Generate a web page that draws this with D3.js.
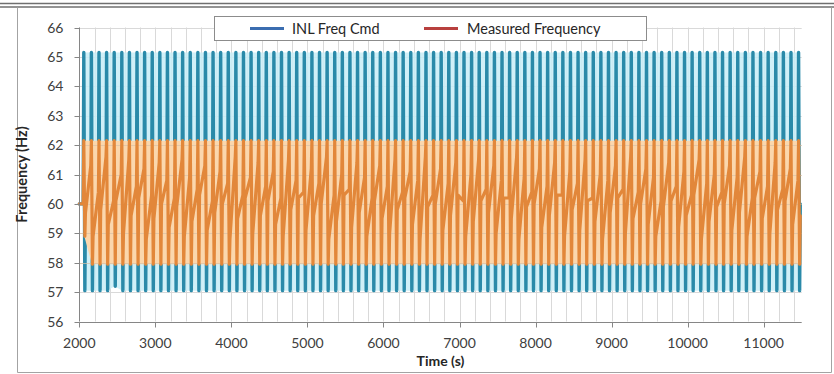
<!DOCTYPE html>
<html><head><meta charset="utf-8">
<script src="https://cdn.jsdelivr.net/npm/d3@7"></script>
<style>body{margin:0;background:#fff}svg{display:block}text{font-family:Lato,"Open Sans",sans-serif}</style>
</head><body>
<svg id="c" width="834" height="374"></svg>
<script>
// ---- data ----
const seriesNames = ["INL Freq Cmd", "Measured Frequency"];
const xTicks = [2000, 3000, 4000, 5000, 6000, 7000, 8000, 9000, 10000, 11000];
const yTicks = [56, 57, 58, 59, 60, 61, 62, 63, 64, 65, 66];
const xAxisTitle = "Time (s)";
const yAxisTitle = "Frequency (Hz)";
const startTime = 2000;
const startHz = 60;
const cmdRest = 60;
// centre time of each oscillation cycle (s)
const cycleTimes = [
  2066,2166,2266,2366,2466,2566,2666,2766,2866,2966,
  3066,3166,3266,3366,3466,3566,3666,3766,3866,3966,
  4066,4166,4266,4366,4466,4566,4666,4766,4866,4966,
  5066,5166,5266,5366,5466,5566,5666,5766,5866,5966,
  6066,6166,6266,6366,6466,6566,6666,6766,6866,6966,
  7066,7166,7266,7366,7466,7566,7666,7766,7866,7966,
  8066,8166,8266,8366,8466,8566,8666,8766,8866,8966,
  9066,9166,9266,9366,9466,9566,9666,9766,9866,9966,
  10066,10166,10266,10366,10466,10566,10666,10766,10866,10966,
  11066,11166,11266,11366,11466];
const cmdHigh = [
  65.15,65.15,65.15,65.15,65.15,65.15,65.15,65.15,65.15,65.15,
  65.15,65.15,65.15,65.15,65.15,65.15,65.15,65.15,65.15,65.15,
  65.15,65.15,65.15,65.15,65.15,65.15,65.15,65.15,65.15,65.15,
  65.15,65.15,65.15,65.15,65.15,65.15,65.15,65.15,65.15,65.15,
  65.15,65.15,65.15,65.15,65.15,65.15,65.15,65.15,65.15,65.15,
  65.15,65.15,65.15,65.15,65.15,65.15,65.15,65.15,65.15,65.15,
  65.15,65.15,65.15,65.15,65.15,65.15,65.15,65.15,65.15,65.15,
  65.15,65.15,65.15,65.15,65.15,65.15,65.15,65.15,65.15,65.15,
  65.15,65.15,65.15,65.15,65.15,65.15,65.15,65.15,65.15,65.15,
  65.15,65.15,65.15,65.15,65.15];
const cmdLow = [
  57.05,57.05,57.05,57.05,57.2,57.05,57.05,57.05,57.05,57.05,
  57.05,57.05,57.05,57.05,57.05,57.05,57.05,57.05,57.05,57.05,
  57.05,57.05,57.05,57.05,57.05,57.05,57.05,57.05,57.05,57.05,
  57.05,57.05,57.05,57.05,57.05,57.05,57.05,57.05,57.05,57.05,
  57.05,57.05,57.05,57.05,57.05,57.05,57.05,57.05,57.05,57.05,
  57.05,57.05,57.05,57.05,57.05,57.05,57.05,57.05,57.05,57.05,
  57.05,57.05,57.05,57.05,57.05,57.05,57.05,57.05,57.05,57.05,
  57.05,57.05,57.05,57.05,57.05,57.05,57.05,57.05,57.05,57.05,
  57.05,57.05,57.05,57.05,57.05,57.05,57.05,57.05,57.05,57.05,
  57.05,57.05,57.05,57.05,57.05];
const measHigh = [
  62.15,62.15,62.15,62.15,62.15,62.15,62.15,62.15,62.15,62.15,
  62.15,62.15,62.15,62.15,62.15,62.15,62.15,62.15,62.15,62.15,
  62.15,62.15,62.15,62.15,62.15,62.15,62.15,62.15,62.15,62.15,
  62.15,62.15,62.15,62.15,62.15,62.15,62.15,62.15,62.15,62.15,
  62.15,62.15,62.15,62.15,62.15,62.15,62.15,62.15,62.15,62.15,
  62.15,62.15,62.15,62.15,62.15,62.15,62.15,62.15,62.15,62.15,
  62.15,62.15,62.15,62.15,62.15,62.15,62.15,62.15,62.15,62.15,
  62.15,62.15,62.15,62.15,62.15,62.15,62.15,62.15,62.15,62.15,
  62.15,62.15,62.15,62.15,62.15,62.15,62.15,62.15,62.15,62.15,
  62.15,62.15,62.15,62.15,62.15];
const measLow = [
  58.9,57.95,57.95,57.95,57.95,57.95,57.95,57.95,57.95,57.95,
  57.95,57.95,57.95,57.95,57.95,57.95,57.95,57.95,57.95,57.95,
  57.95,57.95,57.95,57.95,57.95,57.95,57.95,57.95,57.95,57.95,
  57.95,57.95,57.95,57.95,57.95,57.95,57.95,57.95,57.95,57.95,
  57.95,57.95,57.95,57.95,57.95,57.95,57.95,57.95,57.95,57.95,
  57.95,57.95,57.95,57.95,57.95,57.95,57.95,57.95,57.95,57.95,
  57.95,57.95,57.95,57.95,57.95,57.95,57.95,57.95,57.95,57.95,
  57.95,57.95,57.95,57.95,57.95,57.95,57.95,57.95,57.95,57.95,
  57.95,57.95,57.95,57.95,57.95,57.95,57.95,57.95,57.95,57.95,
  57.95,57.95,57.95,57.95,57.95];
// measured value entering / leaving each cycle's swing
const measIn = [
  60.0,61.3,60.4,61.6,60.1,61.0,61.5,60.6,61.2,60.3,
  61.4,60.8,60.2,61.5,60.9,60.5,61.3,60.1,61.1,60.7,
  61.6,60.3,60.9,61.4,60.6,61.1,60.2,61.5,60.8,60.4,
  61.2,60.7,61.6,60.3,61.0,60.5,61.4,60.9,60.2,61.3,
  60.6,61.5,60.4,61.1,60.8,61.6,60.3,61.2,60.7,61.4,
  60.1,61.0,61.5,60.5,61.3,60.8,60.2,61.6,60.9,60.4,
  61.2,60.6,61.4,60.3,61.1,60.7,61.5,60.2,61.0,60.8,
  61.3,60.5,61.6,60.4,61.2,60.9,60.1,61.4,60.6,61.1,
  60.3,61.5,60.7,61.0,60.4,61.3,60.9,61.6,60.2,61.1,
  60.6,61.4,60.5,61.2,60.8];
const measOut = [
  59.7,58.9,59.8,59.3,60.1,59.0,59.6,60.2,58.8,59.5,
  60.0,59.2,59.9,58.9,59.4,60.3,59.1,59.7,60.0,58.8,
  59.5,60.2,59.0,59.6,60.1,59.3,58.9,59.8,60.2,59.1,
  59.6,60.0,58.8,59.4,60.3,59.2,59.7,58.9,60.1,59.5,
  59.0,59.8,60.2,59.3,58.8,59.9,60.0,59.1,59.6,60.3,
  58.9,59.4,60.1,59.7,59.0,60.2,59.5,58.8,59.9,60.0,
  59.2,59.6,60.3,58.9,59.8,59.1,60.1,59.4,58.8,59.7,
  60.2,59.0,59.5,60.0,59.3,58.9,59.9,60.1,59.2,59.6,
  60.3,58.8,59.4,59.9,60.0,59.1,59.7,58.9,60.2,59.5,
  59.0,59.8,60.1,59.3,59.6];

// ---- layout ----
const svg = d3.select("#c");
const x = d3.scaleLinear().domain([2000, 11500]).range([79.3, 801.7]);
const y = d3.scaleLinear().domain([56, 66]).range([321.5, 27.5]);
const crisp = v => Math.round(v) + 0.5;

// frame
svg.append("rect").attr("width", 834).attr("height", 374).attr("fill", "#fff");
svg.append("line").attr("x1", 0).attr("x2", 834).attr("y1", 3.5).attr("y2", 3.5).attr("stroke", "#6f6f6f").attr("stroke-width", 1.6);
svg.append("line").attr("x1", 0).attr("x2", 834).attr("y1", 7).attr("y2", 7).attr("stroke", "#6f6f6f").attr("stroke-width", 1.6);
svg.append("path").attr("d", "M17.5,7.5V372.5H831.5V7.5").attr("fill", "none").attr("stroke", "#a3a3a3");

// gridlines
const minorX = d3.range(2000, 11401, 200);
const g = svg.append("g");
g.selectAll(".vg").data(minorX).join("line")
  .attr("x1", d => crisp(x(d))).attr("x2", d => crisp(x(d)))
  .attr("y1", y(66)).attr("y2", y(56)).attr("stroke", "#d9d9d9");
g.selectAll(".hg").data(yTicks.slice(1)).join("line")
  .attr("x1", x(2000)).attr("x2", x(11500))
  .attr("y1", d => crisp(y(d))).attr("y2", d => crisp(y(d))).attr("stroke", "#d9d9d9");

// build series paths from the per-cycle values
const cmdPts = [[startTime, startHz]];
const measPts = [[startTime, startHz]];
cycleTimes.forEach((t, i) => {
  cmdPts.push([t - 15, cmdRest], [t - 7, cmdHigh[i]], [t + 7, cmdLow[i]], [t + 15, cmdRest]);
  measPts.push([t - 15, measIn[i]], [t - 7, measHigh[i]], [t + 7, measLow[i]], [t + 15, measOut[i]]);
});
const line = d3.line().x(d => x(d[0])).y(d => y(d[1]));
const band = (lo, hi) => d3.area().x(d => x(d)).y0((d, i) => y(lo[i])).y1((d, i) => y(hi[i]));

// INL Freq Cmd
svg.append("path").datum(cycleTimes).attr("d", band(cmdLow, cmdHigh)).attr("fill", "#c8edf7").attr("opacity", 0.85);
svg.append("path").datum(cmdPts).attr("d", line).attr("fill", "none")
  .attr("stroke", "#2a8aa9").attr("stroke-width", 3.4).attr("stroke-linejoin", "round").attr("stroke-linecap", "round");
// Measured Frequency
svg.append("path").datum(cycleTimes).attr("d", band(measLow, measHigh)).attr("fill", "#fbd7ad");
svg.selectAll(".hg2").data(yTicks.filter(v => v >= 58 && v <= 62)).join("line")
  .attr("x1", x(2000)).attr("x2", x(11500))
  .attr("y1", d => crisp(y(d))).attr("y2", d => crisp(y(d))).attr("stroke", "#d9c3a8").attr("opacity", 0.7);
svg.append("path").datum(measPts).attr("d", line).attr("fill", "none")
  .attr("stroke", "#e2873a").attr("stroke-width", 3.2).attr("stroke-linejoin", "round").attr("stroke-linecap", "round");

// axes
const axisColor = "#868686";
svg.append("line").attr("x1", crisp(x(2000))).attr("x2", crisp(x(2000))).attr("y1", y(66)).attr("y2", y(56)).attr("stroke", axisColor);
svg.append("line").attr("x1", x(2000)).attr("x2", x(11500)).attr("y1", crisp(y(56))).attr("y2", crisp(y(56))).attr("stroke", axisColor);
svg.selectAll(".yt").data(yTicks).join("line")
  .attr("x1", crisp(x(2000)) - 5).attr("x2", crisp(x(2000)))
  .attr("y1", d => crisp(y(d))).attr("y2", d => crisp(y(d))).attr("stroke", axisColor);
svg.selectAll(".xt").data(xTicks).join("line")
  .attr("x1", d => crisp(x(d))).attr("x2", d => crisp(x(d)))
  .attr("y1", crisp(y(56))).attr("y2", crisp(y(56)) + 5).attr("stroke", axisColor);
svg.selectAll(".yl").data(yTicks).join("text")
  .attr("x", 63.5).attr("y", d => y(d) + 5).attr("text-anchor", "end")
  .attr("font-size", 14).attr("fill", "#404040").text(d => d);
svg.selectAll(".xl").data(xTicks).join("text")
  .attr("x", d => x(d)).attr("y", 347.5).attr("text-anchor", "middle")
  .attr("font-size", 14).attr("fill", "#404040").text(d => d);
svg.append("text").attr("x", (x(2000) + x(11500)) / 2).attr("y", 366).attr("text-anchor", "middle")
  .attr("font-size", 14).attr("font-weight", "bold").attr("fill", "#262626").text(xAxisTitle);
svg.append("text").attr("transform", `translate(27,${(y(56) + y(66)) / 2}) rotate(-90)`).attr("text-anchor", "middle")
  .attr("font-size", 14.5).attr("font-weight", "bold").attr("fill", "#262626").text(yAxisTitle);

// legend
const lg = svg.append("g");
lg.append("rect").attr("x", 214.5).attr("y", 16.5).attr("width", 432).attr("height", 24)
  .attr("fill", "#fff").attr("stroke", "#8c8c8c");
const legendItems = [
  {name: seriesNames[0], color: "#3b6db0", x0: 250, tx: 292},
  {name: seriesNames[1], color: "#b8403e", x0: 424, tx: 467}
];
legendItems.forEach(it => {
  lg.append("line").attr("x1", it.x0).attr("x2", it.x0 + 34).attr("y1", 28.5).attr("y2", 28.5)
    .attr("stroke", it.color).attr("stroke-width", 3);
  lg.append("text").attr("x", it.tx).attr("y", 33.5).attr("font-size", 14.5).attr("fill", "#262626").text(it.name);
});
</script>
</body></html>
